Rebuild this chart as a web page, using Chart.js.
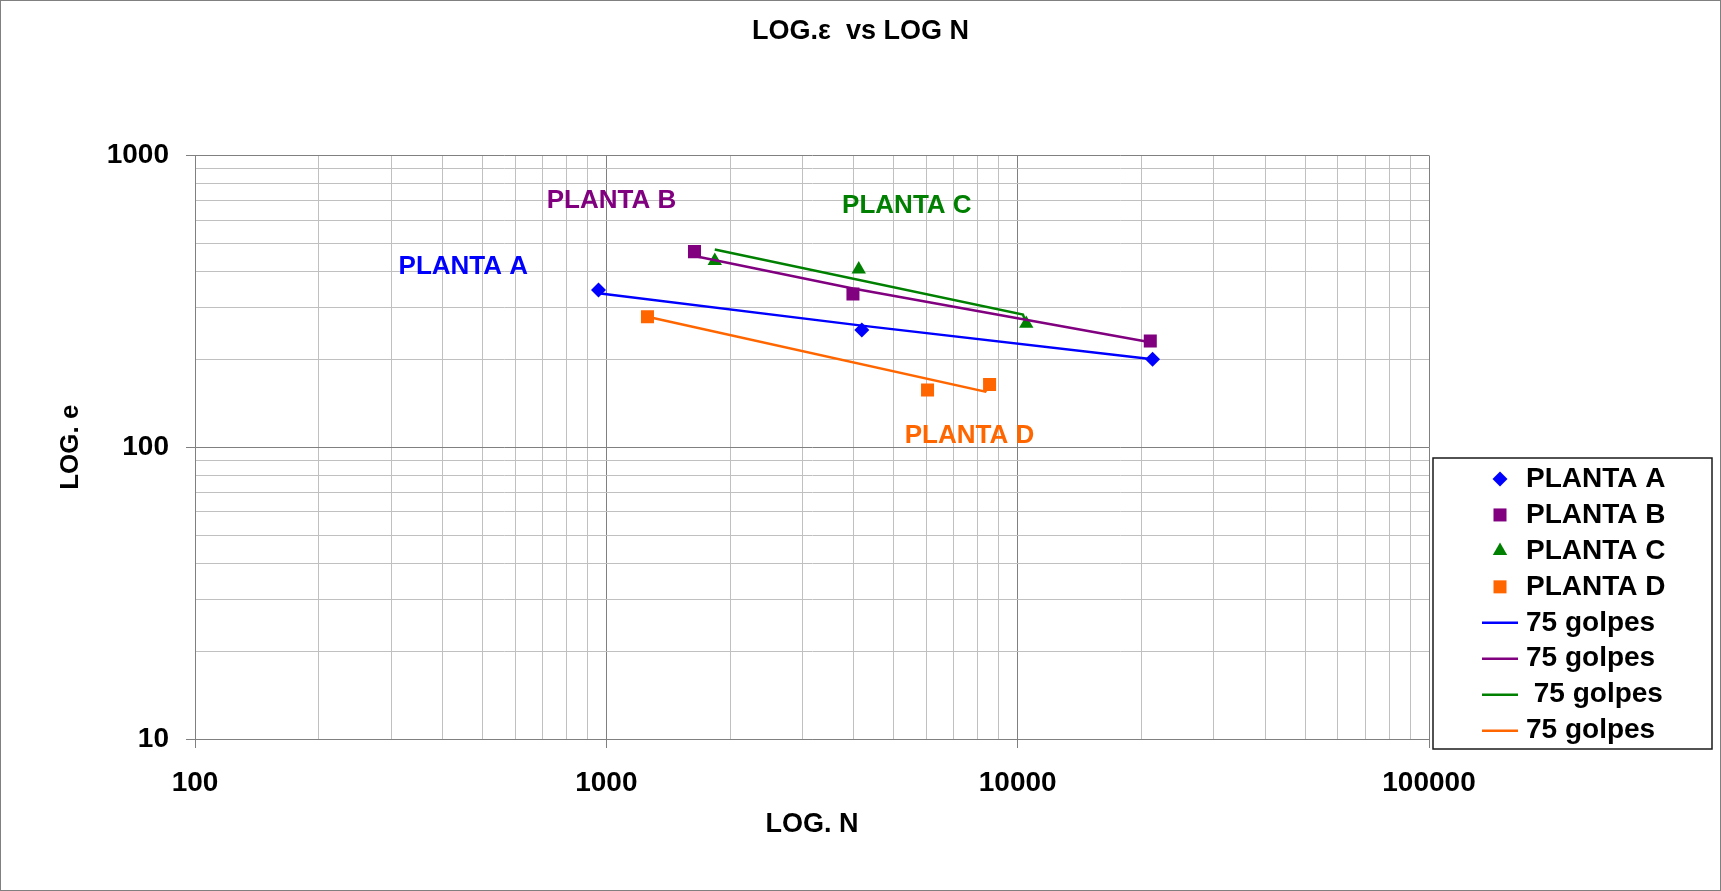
<!DOCTYPE html>
<html>
<head>
<meta charset="utf-8">
<title>LOG.ε vs LOG N</title>
<script src="https://cdn.jsdelivr.net/npm/chart.js@4.4.1/dist/chart.umd.min.js"></script>
<style>
  html, body { margin: 0; padding: 0; background: #fff; }
  #wrap { width: 1721px; height: 891px; position: relative; }
</style>
</head>
<body>
<div id="wrap"><canvas id="myChart"></canvas></div>
<script>
// Plants: measured N (cycles) and e values
const plantNames = ['PLANTA A', 'PLANTA B', 'PLANTA C', 'PLANTA D'];
const plantColors = ['#0000FF', '#800080', '#008000', '#FF6600'];
const plantStyles = ['rectRot', 'rect', 'triangle', 'rect'];
const plantRadius = [7.5, 9.2, 8.3, 9.2];

const plantA_N = [957, 4179, 21280];
const plantA_e = [346, 252, 200];
const plantB_N = [1638, 3977, 21010];
const plantB_e = [468, 335, 231];
const plantC_N = [1835, 4108, 10493];
const plantC_e = [435, 407, 265];
const plantD_N = [1259, 6038, 8545];
const plantD_e = [280, 157, 164];

// 75 golpes lines
const fitLabels = ['75 golpes', '75 golpes', ' 75 golpes', '75 golpes'];
const fitA_N = [957, 4179, 21280];
const fitA_e = [337, 261, 200];
const fitB_N = [1638, 3977, 21010];
const fitB_e = [452, 350, 229];
const fitC_N = [1835, 10300, 10493];
const fitC_e = [476, 285, 265];
const fitD_N = [1259, 8343, 8545];
const fitD_e = [280, 155, 164];

// where the plant names sit on the plot (N, e)
const tagN = [449, 1029, 5378, 7636];
const tagE = [415, 698, 674, 109];

// axis decades
const xDecades = [100, 1000, 10000, 100000];
const yDecades = [10, 100, 1000];

const FONT = '"Liberation Sans", Arial, Helvetica, sans-serif';
Chart.defaults.font.family = FONT;
Chart.defaults.color = '#000';

const pts = (xs, ys) => xs.map((v, i) => ({x: v, y: ys[i]}));

// decade lines plus 2..9 in between
function logTicks(decades) {
  const out = [];
  decades.forEach((d, i) => {
    out.push({value: d, major: true});
    if (i < decades.length - 1) {
      for (let k = 2; k <= 9; k++) out.push({value: d * k, major: false});
    }
  });
  return out;
}

const plantN = [plantA_N, plantB_N, plantC_N, plantD_N];
const plantE = [plantA_e, plantB_e, plantC_e, plantD_e];
const fitN = [fitA_N, fitB_N, fitC_N, fitD_N];
const fitE = [fitA_e, fitB_e, fitC_e, fitD_e];

const datasets = [];
plantNames.forEach((name, i) => {
  datasets.push({
    label: name,
    data: pts(plantN[i], plantE[i]),
    showLine: false,
    pointStyle: plantStyles[i],
    pointRadius: plantRadius[i],
    pointHoverRadius: plantRadius[i],
    pointBackgroundColor: plantColors[i],
    pointBorderWidth: 0,
    borderColor: plantColors[i],
    backgroundColor: plantColors[i],
    order: 1
  });
});
fitLabels.forEach((name, i) => {
  datasets.push({
    label: name,
    data: pts(fitN[i], fitE[i]),
    showLine: true,
    tension: 0,
    pointRadius: 0,
    pointHoverRadius: 0,
    borderColor: plantColors[i],
    backgroundColor: plantColors[i],
    borderWidth: 2.5,
    order: 0
  });
});

// plant names written next to their points
const plantTags = {
  id: 'plantTags',
  afterDatasetsDraw(chart) {
    const {ctx, scales: {x, y}} = chart;
    ctx.save();
    ctx.font = 'bold 26px ' + FONT;
    ctx.textAlign = 'center';
    ctx.textBaseline = 'middle';
    plantNames.forEach((name, i) => {
      ctx.fillStyle = plantColors[i];
      ctx.fillText(name, x.getPixelForValue(tagN[i]), y.getPixelForValue(tagE[i]));
    });
    ctx.restore();
  }
};

// boxed legend on the right + outer frame
const sideLegend = {
  id: 'sideLegend',
  afterDraw(chart) {
    const {ctx} = chart;
    const box = {left: 1433, top: 458, right: 1712, bottom: 749};
    ctx.save();
    ctx.strokeStyle = '#808080';
    ctx.lineWidth = 1;
    ctx.strokeRect(0.5, 0.5, chart.width - 1, chart.height - 1);

    ctx.strokeStyle = '#1a1a1a';
    ctx.lineWidth = 1.5;
    ctx.strokeRect(box.left, box.top, box.right - box.left, box.bottom - box.top);

    ctx.font = 'bold 28px ' + FONT;
    ctx.textBaseline = 'middle';
    ctx.textAlign = 'left';
    const markX = 1500, textX = 1526, rowTop = 479, rowGap = 35.95;
    chart.data.datasets.forEach((ds, i) => {
      const yy = rowTop + i * rowGap;
      if (ds.showLine) {
        ctx.strokeStyle = ds.borderColor;
        ctx.lineWidth = 2.5;
        ctx.beginPath();
        ctx.moveTo(markX - 18, yy);
        ctx.lineTo(markX + 18, yy);
        ctx.stroke();
      } else {
        ctx.fillStyle = ds.pointBackgroundColor;
        Chart.helpers.drawPoint(ctx, {
          pointStyle: ds.pointStyle, radius: ds.pointRadius, rotation: 0, borderWidth: 0
        }, markX, yy);
      }
      ctx.fillStyle = '#000';
      ctx.fillText(ds.label, textX, yy);
    });
    ctx.restore();
  }
};

const gridColor = c => (c.tick && c.tick.major) ? '#808080' : '#c0c0c0';
const tickColor = c => (c.tick && c.tick.major) ? '#808080' : 'rgba(0,0,0,0)';

(async function() {
  const myChart = document.getElementById('myChart');

  new Chart(myChart, {
    type: 'scatter',
    data: { datasets },
    plugins: [plantTags, sideLegend],
    options: {
      responsive: true,
      maintainAspectRatio: false,
      animation: false,
      layout: { padding: 0 },
      plugins: {
        legend: { display: false },
        tooltip: { enabled: false },
        title: {
          display: true,
          text: 'LOG.ε  vs LOG N',
          color: '#000',
          font: { size: 27, weight: 'bold' },
          padding: { top: 15, bottom: 108 }
        }
      },
      scales: {
        x: {
          type: 'logarithmic',
          min: 100,
          max: 100000,
          afterFit: s => { s.height = 152; },
          afterBuildTicks: s => { s.ticks = logTicks(xDecades); },
          border: { color: '#808080', width: 1 },
          grid: { color: gridColor, tickColor, tickLength: 9, lineWidth: 1 },
          ticks: {
            autoSkip: false,
            maxRotation: 0,
            padding: 18,
            font: { size: 28, weight: 'bold' },
            color: '#000',
            callback: v => xDecades.includes(v) ? String(v) : ''
          },
          title: {
            display: true,
            text: 'LOG. N',
            color: '#000',
            font: { size: 27, weight: 'bold' },
            padding: { top: 0, bottom: 50 }
          }
        },
        y: {
          type: 'logarithmic',
          min: 10,
          max: 1000,
          afterFit: s => { s.width = 195; },
          afterBuildTicks: s => { s.ticks = logTicks(yDecades); },
          border: { color: '#808080', width: 1 },
          grid: { color: gridColor, tickColor, tickLength: 9, lineWidth: 1 },
          ticks: {
            autoSkip: false,
            padding: 17,
            font: { size: 28, weight: 'bold' },
            color: '#000',
            callback: v => yDecades.includes(v) ? String(v) : ''
          },
          title: {
            display: true,
            text: 'LOG. e',
            color: '#000',
            font: { size: 26, weight: 'bold' },
            padding: { top: 55, bottom: 0 }
          }
        },
        // empty right-hand strip that holds the legend box
        side: {
          type: 'linear',
          position: 'right',
          display: true,
          afterFit: s => { s.width = 292; },
          grid: { display: false },
          border: { display: false },
          ticks: { display: false }
        }
      }
    }
  });
})();
</script>
</body>
</html>
